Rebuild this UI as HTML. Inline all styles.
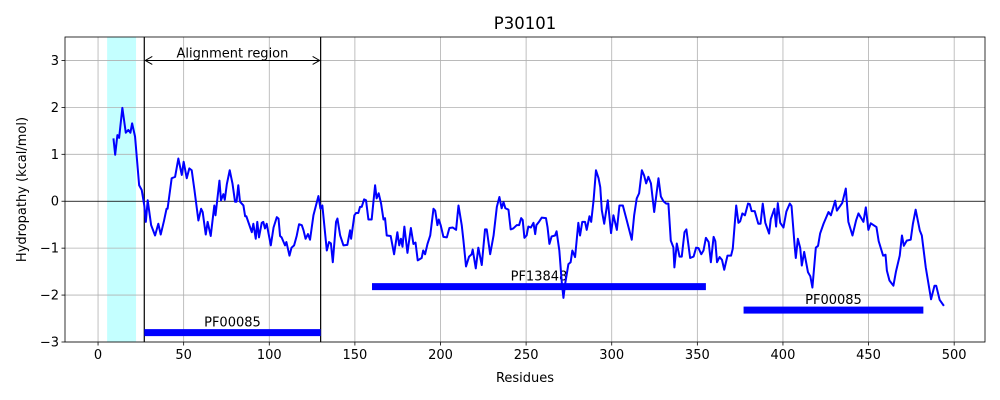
<!DOCTYPE html>
<html><head><meta charset="utf-8"><style>
body{margin:0;background:#fff}
svg{display:block;font-family:"DejaVu Sans","Liberation Sans",sans-serif}
</style></head><body>
<svg id="chart" width="1000" height="400"></svg>
<script>
const residues=[9,10,11.3,12.3,14.2,16.2,17.7,18.9,19.9,21.6,24,25.5,27,27.9,29,31,33.3,35.2,36.6,38.5,40,40.6,43,45,46.9,48.9,50,51.8,53.3,54.7,56.3,58.6,60.2,61.1,62.9,64,65.8,67.9,68.6,70.9,71.8,73.2,74,75.2,76.9,78.5,80,80.9,81.9,82.9,84.9,85.9,86.6,89.8,90.7,92.1,93,94,95.6,96.5,97.5,98.5,100.9,102.5,104.4,105.4,106.3,107.2,109.2,110,111.8,113,114.5,116,117.4,119,120,121.2,122.6,123.8,124.8,125.8,128.7,129.9,131,133.6,134.9,136,137.1,139,139.8,141.4,143.3,145.6,147.2,147.8,149.7,150.7,152,153,154,155.4,156.5,157.9,159.8,161.8,162.7,163.9,165.3,166.7,167.6,168.6,170.9,172.9,174.8,175.9,176.9,177.8,178.9,180.7,182.7,184.2,185.4,186.7,189,189.9,191,192.4,194,195.9,196.9,198.2,199,200.1,201.7,203.7,205.2,207.2,209.1,210.5,212.4,213.4,214.9,216.7,218.2,218.8,220.6,222.1,224.1,226,227,229,231,232.9,234.4,235.7,236.8,237.9,239.7,241,242.5,244.5,245.9,247.1,248,249,250.3,251.3,252.8,254.3,255.3,256,257.5,259.1,261.6,262.5,263.6,264.9,266.9,267.8,269.4,270.9,271.8,272.8,274.7,276,277,278.6,280.5,281.5,282.8,284.4,285.4,287,288,289.4,290.8,292.3,293.3,294.2,295.6,297.7,299.6,301,303,304.5,306.5,308.8,311.7,313.1,314.6,316,317.6,318.9,320.1,321.4,322.9,324.8,327.3,328.7,330.2,331.8,333.1,334.5,336,336.6,338,339.6,340.9,342.5,343.6,345.8,347.8,349.3,350.7,352.3,353.6,355,356.6,357.9,359.5,360.5,361.5,363,364.4,365.7,367.6,369.7,370.7,372.7,374,375,376.3,377.8,379.6,380.6,381.7,383.5,385.6,386.9,388.2,389.7,391.9,392.9,395,396,397,398.4,400.3,402,404,405,406.9,407.5,408.7,410.1,411,412.4,414.6,416,417.2,419.2,420.5,421.7,423.7,426.6,428,430.5,431.5,434.6,436.7,438.2,440.6,442.7,444.1,447,448.4,449.9,451.3,454.6,455.9,458.5,459.9,460.7,462.2,464.5,466,468.2,469.5,470.6,472.3,474.6,475.9,477.5,479.9,481.1,483.4,486.5,488.5,489.5,491.5,494];
const hydropathy=[1.34,0.99,1.41,1.35,1.99,1.46,1.52,1.46,1.66,1.38,0.34,0.24,-0.09,-0.44,0.02,-0.51,-0.73,-0.48,-0.71,-0.42,-0.16,-0.16,0.49,0.52,0.91,0.56,0.84,0.49,0.7,0.66,0.24,-0.41,-0.16,-0.23,-0.71,-0.44,-0.74,-0.09,-0.3,0.44,0.02,0.15,0.03,0.36,0.66,0.38,-0.01,-0.01,0.34,-0.01,-0.09,-0.32,-0.32,-0.66,-0.48,-0.8,-0.44,-0.77,-0.46,-0.44,-0.58,-0.48,-0.94,-0.56,-0.34,-0.37,-0.74,-0.77,-0.94,-0.87,-1.16,-0.99,-0.94,-0.74,-0.49,-0.51,-0.62,-0.8,-0.7,-0.82,-0.56,-0.3,0.11,-0.16,-0.09,-1.05,-0.87,-0.9,-1.3,-0.44,-0.37,-0.73,-0.94,-0.93,-0.62,-0.8,-0.3,-0.25,-0.25,-0.12,-0.12,0.04,0.02,-0.39,-0.39,0.34,0.06,0.17,-0.05,-0.39,-0.36,-0.73,-0.74,-1.13,-0.66,-0.94,-0.8,-0.97,-0.54,-1.1,-0.57,-0.91,-0.88,-1.26,-1.21,-1.05,-1.13,-0.91,-0.73,-0.16,-0.2,-0.51,-0.39,-0.51,-0.76,-0.77,-0.57,-0.56,-0.61,-0.09,-0.51,-0.84,-1.39,-1.18,-1.13,-1.03,-1.43,-0.99,-1.36,-0.6,-0.6,-1.13,-0.73,-0.12,0.09,-0.15,-0.02,-0.15,-0.18,-0.6,-0.58,-0.51,-0.51,-0.36,-0.4,-0.78,-0.73,-0.54,-0.56,-0.46,-0.7,-0.51,-0.44,-0.35,-0.36,-0.55,-0.91,-0.75,-0.73,-0.64,-1.05,-1.76,-2.06,-1.76,-1.34,-1.3,-1.05,-1.19,-0.46,-0.73,-0.44,-0.44,-0.61,-0.32,-0.44,0.02,0.66,0.49,0.3,-0.19,-0.48,0.02,-0.68,-0.3,-0.61,-0.09,-0.09,-0.41,-0.82,-0.3,0.06,0.17,0.66,0.55,0.38,0.52,0.38,-0.23,0.49,0.1,0,-0.05,-0.05,-0.84,-0.98,-1.41,-0.9,-1.18,-1.18,-0.66,-0.6,-1.21,-1.18,-0.99,-1.0,-1.13,-1.05,-0.78,-0.87,-1.3,-0.76,-0.85,-1.3,-1.19,-1.25,-1.46,-1.16,-1.16,-1.01,-0.09,-0.46,-0.43,-0.26,-0.3,-0.05,-0.06,-0.21,-0.21,-0.48,-0.48,-0.05,-0.46,-0.69,-0.38,-0.16,-0.54,-0.04,-0.46,-0.56,-0.22,-0.05,-0.1,-0.98,-1.21,-0.8,-1.0,-1.37,-1.08,-1.51,-1.6,-1.84,-0.99,-0.95,-0.69,-0.48,-0.23,-0.3,0.01,-0.2,-0.04,0.27,-0.44,-0.73,-0.41,-0.26,-0.44,-0.13,-0.61,-0.47,-0.55,-0.85,-1.16,-1.14,-1.48,-1.69,-1.8,-1.5,-1.16,-0.73,-0.95,-0.84,-0.82,-0.48,-0.18,-0.62,-0.73,-1.41,-2.09,-1.8,-1.8,-2.1,-2.23];
const xTicks=[0,50,100,150,200,250,300,350,400,450,500];
const yTicks=[-3,-2,-1,0,1,2,3];
const domainNames=["PF00085","PF13848","PF00085"];
const domainStart=[27,160,377];
const domainEnd=[130,355,482];
const domainLevel=[-2.8,-1.82,-2.32];
const signalSpan=[5.3,22.2];
const alignRegion=[27,130];

const L=65,R=985,T=37,B=342,xmin=-19.3,xmax=518,ymin=-3,ymax=3.5;
const X=v=>L+(v-xmin)/(xmax-xmin)*(R-L);
const Y=v=>B-(v-ymin)/(ymax-ymin)*(B-T);
const fmt=v=>String(v).replace('-','\u2212');
const svg=document.getElementById('chart');
const NS='http://www.w3.org/2000/svg';
function mk(tag,attrs,parent){const e=document.createElementNS(NS,tag);for(const k in attrs)e.setAttribute(k,attrs[k]);(parent||svg).appendChild(e);return e;}

let e=mk('rect',{x:X(signalSpan[0]),y:T,width:X(signalSpan[1])-X(signalSpan[0]),height:B-T,fill:'#c4ffff'});


xTicks.forEach(t=>{
  let g=mk('line',{x1:X(t),x2:X(t),y1:T,y2:B,stroke:'#b0b0b0','stroke-width':0.8});
  
  
  mk('line',{x1:X(t),x2:X(t),y1:B,y2:B+3.5,stroke:'#000','stroke-width':0.8});
  let tx=mk('text',{x:X(t),y:B+17,'text-anchor':'middle','font-size':13});
  tx.textContent=fmt(t);
  
  
});
yTicks.forEach(t=>{
  let g=mk('line',{x1:L,x2:R,y1:Y(t),y2:Y(t),stroke:'#b0b0b0','stroke-width':0.8});
  
  
  mk('line',{x1:L-3.5,x2:L,y1:Y(t),y2:Y(t),stroke:'#000','stroke-width':0.8});
  let tx=mk('text',{x:L-6,y:Y(t)+4.5,'text-anchor':'end','font-size':13});
  tx.textContent=fmt(t);
  
  
});
e=mk('line',{x1:L,x2:R,y1:Y(0),y2:Y(0),stroke:'#000','stroke-width':0.8});


alignRegion.forEach(v=>{
  let l=mk('line',{x1:X(v),x2:X(v),y1:T,y2:B,stroke:'#000','stroke-width':1.2});
  
  
});
const defs=mk('defs',{});
const m=mk('marker',{id:'ah',markerWidth:10,markerHeight:10,refX:8,refY:5,orient:'auto-start-reverse',markerUnits:'userSpaceOnUse'},defs);
mk('path',{d:'M1,1 L8,5 L1,9',fill:'none',stroke:'#000','stroke-width':1},m);
e=mk('line',{x1:X(alignRegion[0])+1,x2:X(alignRegion[1])-1,y1:Y(3),y2:Y(3),stroke:'#000','stroke-width':1,'marker-start':'url(#ah)','marker-end':'url(#ah)'});


e=mk('text',{x:(X(alignRegion[0])+X(alignRegion[1]))/2,y:Y(3)-3,'text-anchor':'middle','font-size':13});
e.textContent='Alignment region';


domainNames.forEach((n,i)=>{
  let r=mk('rect',{x:X(domainStart[i]),y:Y(domainLevel[i])-3.5,width:X(domainEnd[i])-X(domainStart[i]),height:7,fill:'#0000ff'});
  
  
  let t=mk('text',{x:(X(domainStart[i])+X(domainEnd[i]))/2,y:Y(domainLevel[i])-6,'text-anchor':'middle','font-size':13});
  t.textContent=n;
  
  
});
e=mk('polyline',{points:residues.map((r,i)=>X(r)+','+Y(hydropathy[i])).join(' '),fill:'none',stroke:'#0000ff','stroke-width':2,'stroke-linejoin':'round'});


e=mk('rect',{x:L,y:T,width:R-L,height:B-T,fill:'none',stroke:'#000','stroke-width':0.8});


e=mk('text',{x:(L+R)/2,y:29,'text-anchor':'middle','font-size':16.5});
e.textContent='P30101';


e=mk('text',{x:(L+R)/2,y:382,'text-anchor':'middle','font-size':13});
e.textContent='Residues';


e=mk('text',{x:26,y:(T+B)/2,'text-anchor':'middle','font-size':13,transform:'rotate(-90 26 '+((T+B)/2)+')'});
e.textContent='Hydropathy (kcal/mol)';


</script>
</body></html>
